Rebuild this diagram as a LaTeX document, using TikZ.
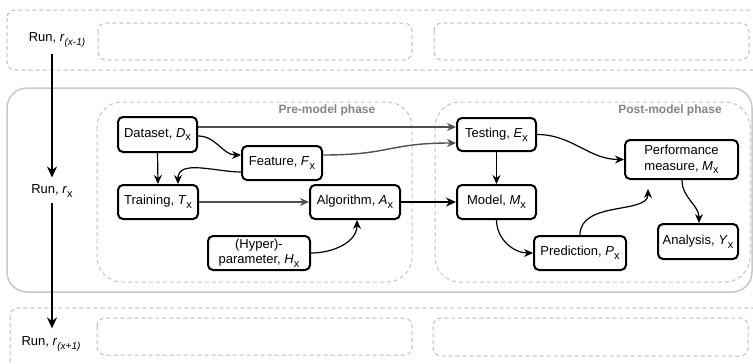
\documentclass[tikz,border=0pt]{standalone}
\usepackage{fontspec}
\setmainfont{Liberation Sans}
\usetikzlibrary{arrows.meta}
\definecolor{boxgray}{HTML}{BDBDBD}
\definecolor{phasegray}{HTML}{C4C4C4}
\definecolor{solidgray}{HTML}{C8C8C8}
\definecolor{labelgray}{HTML}{858585}
\definecolor{linegray}{HTML}{505050}
\newcommand\sbx{\raisebox{-0.28em}{\fontsize{11}{11}\selectfont x}}
\newcommand\sbr[1]{\raisebox{-0.3em}{\fontsize{10}{10}\selectfont\itshape #1}}
\tikzset{
  proc/.style={draw=black, line width=2pt, rounded corners=5pt, align=center,
    inner sep=2pt, font=\fontsize{13}{15.5}\selectfont, fill=white},
  runlab/.style={font=\fontsize{13}{15.5}\selectfont, inner sep=2pt},
  phaselab/.style={font=\fontsize{12}{14}\selectfont\bfseries, text=labelgray, inner sep=0pt},
  dashbox/.style={draw=boxgray, line width=1pt, dash pattern=on 4pt off 3pt, rounded corners=8pt},
  phasebox/.style={draw=phasegray, line width=1pt, dash pattern=on 4pt off 3pt, rounded corners=25pt},
  conn/.style={-{Stealth[length=9pt,width=8pt]}, line width=1.2pt, black},
  gconn/.style={-{Stealth[length=9pt,width=8pt]}, line width=1.4pt, linegray},
  bigarrow/.style={-{Stealth[length=11pt,width=10pt]}, line width=2.2pt, black},
}
\begin{document}
\begin{tikzpicture}[x=1pt,y=-1pt]
\clip (0,0) rectangle (753,364);
\fill[white] (0,0) rectangle (753,364);
% run boxes
\draw[dashbox] (7,10) rectangle (790,70);
\draw[dashbox] (98,23) rectangle (412,60);
\draw[dashbox] (434,23) rectangle (749,60);
\draw[draw=solidgray, line width=1.5pt, rounded corners=20pt] (7,88) rectangle (752,292);
\draw[phasebox] (97,102) rectangle (412,282);
\draw[phasebox] (435,102) rectangle (750,282);
\draw[dashbox] (10,308) rectangle (790,400);
\draw[dashbox] (97,318) rectangle (412,355);
\draw[dashbox] (433,318) rectangle (748,356);
% phase labels
\node[phaselab] (prelab) at (327,110) {Pre-model phase};
\node[phaselab] (postlab) at (670,110) {Post-model phase};
% run labels
\node[runlab] (run1) at (57,40) {Run, \textit{r}\sbr{(x-1)}};
\node[runlab] (run2) at (52,191) {Run, \textit{r}\sbx};
\node[runlab] (run3) at (51,344) {Run, \textit{r}\sbr{(x+1)}};
% process nodes
\node[proc, minimum width=79pt, minimum height=35pt] (data) at (157.5,134.5) {Dataset, \textit{D}\sbx};
\node[proc, minimum width=80pt, minimum height=34pt] (feat) at (282,163) {Feature, \textit{F}\sbx};
\node[proc, minimum width=80pt, minimum height=34pt] (train) at (158,202) {Training, \textit{T}\sbx};
\node[proc, minimum width=90pt, minimum height=34pt] (alg) at (355,202) {Algorithm, \textit{A}\sbx};
\node[proc, minimum width=102pt, minimum height=34pt] (hyper) at (259,253) {(Hyper)-\\parameter, \textit{H}\sbx};
\node[proc, minimum width=79pt, minimum height=33pt] (test) at (496.5,134.5) {Testing, \textit{E}\sbx};
\node[proc, minimum width=79pt, minimum height=34pt] (model) at (496.5,202) {Model, \textit{M}\sbx};
\node[proc, minimum width=92pt, minimum height=34pt] (pred) at (580,253) {Prediction, \textit{P}\sbx};
\node[proc, minimum width=113pt, minimum height=39pt] (perf) at (681.5,159.5) {Performance\\measure, \textit{M}\sbx};
\node[proc, minimum width=80pt, minimum height=35pt] (anal) at (698,241.5) {Analysis, \textit{Y}\sbx};
% run arrows
\draw[bigarrow, shorten <=4pt, shorten >=5pt] (run1.south -| run2.north) -- (run2.north);
\draw[bigarrow, shorten <=4pt, shorten >=6pt] (run2.south) -- (run3.north -| run2.south);
% connectors
\draw[gconn] ([yshift=7.5pt]data.east) -- ([yshift=7.5pt]test.west);
\draw[conn] ([yshift=-1.5pt]data.east) to[out=0,in=180] ([yshift=8pt]feat.west);
\draw[conn] ([yshift=-9pt]feat.west) to[out=180,in=90] ([xshift=20pt]train.north);
\draw[conn] (data.south) -- (train.north);
\draw[gconn] ([yshift=8pt]feat.east) to[out=0,in=180,looseness=1.3] ([yshift=-8.5pt]test.west);
\draw[gconn] (train.east) -- (alg.west);
\draw[conn] (hyper.east) to[out=0,in=-90] ([xshift=2pt]alg.south);
\draw[-{Stealth[length=10pt,width=9pt]}, line width=2pt, black] (alg.east) -- (model.west);
\draw[conn] (test.south) -- (model.north);
\draw[conn] (test.east) to[out=0,in=180] (perf.west);
\draw[conn] (model.south) to[out=-90,in=180] (pred.west);
\draw[conn, shorten >=9pt] (pred.north) to[out=90,in=-90] ([xshift=-33.5pt]perf.south);
\draw[conn] ([xshift=0.5pt]perf.south) to[out=-90,in=90] ([xshift=1pt]anal.north);
\end{tikzpicture}
\end{document}
